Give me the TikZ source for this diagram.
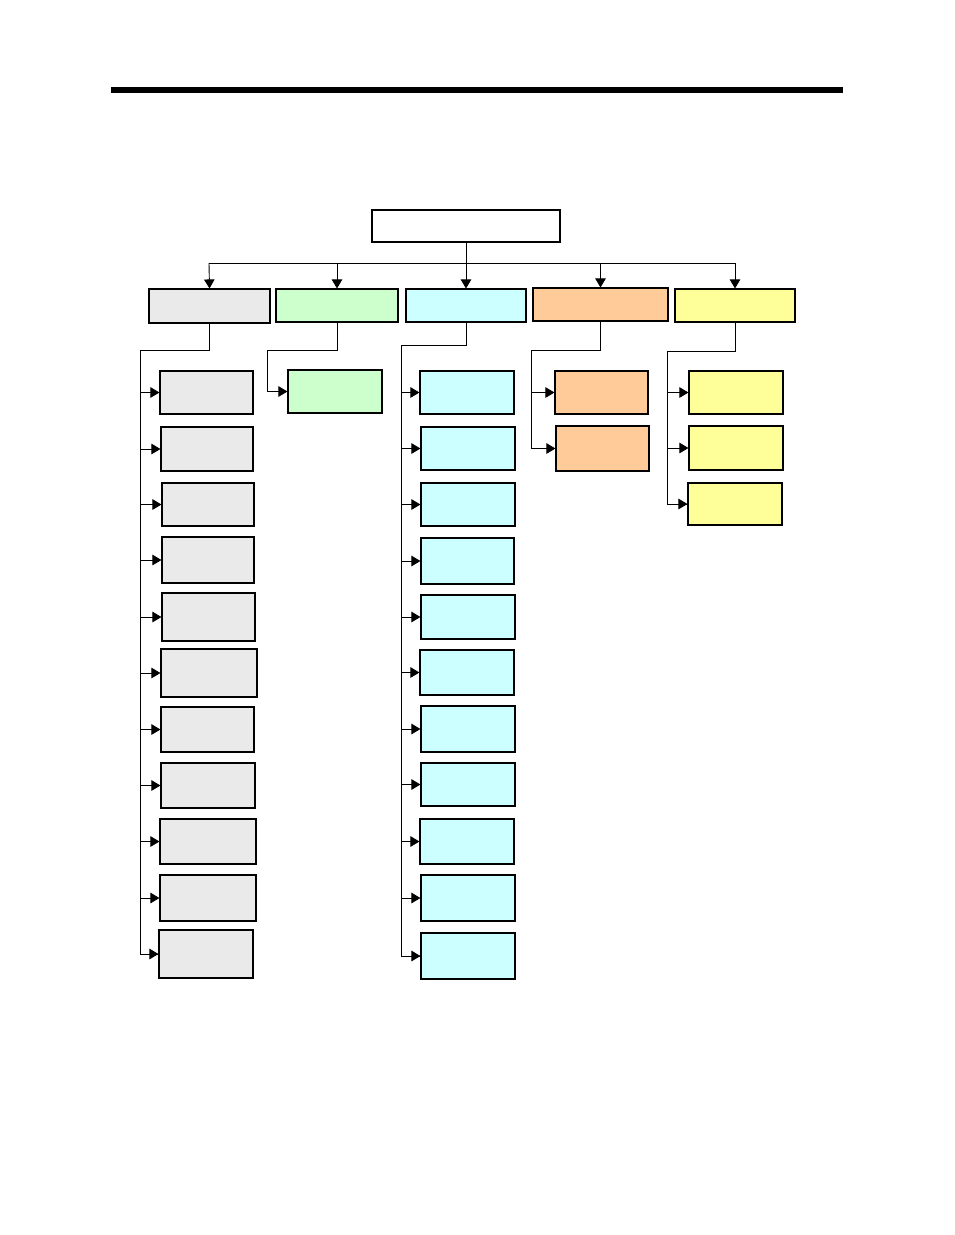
\documentclass[tikz,border=0pt]{standalone}
\usetikzlibrary{arrows.meta}
\definecolor{cgray}{HTML}{EAEAEA}
\definecolor{cgreen}{HTML}{CCFFCC}
\definecolor{ccyan}{HTML}{CCFFFF}
\definecolor{corange}{HTML}{FFCC99}
\definecolor{cyellow}{HTML}{FFFF99}
\tikzset{
  box/.style={draw=black, line width=1.1pt, inner sep=0pt, minimum width=94pt, minimum height=44pt},
  graybox/.style={box, fill=cgray},
  greenbox/.style={box, fill=cgreen},
  cyanbox/.style={box, fill=ccyan},
  orangebox/.style={box, fill=corange},
  yellowbox/.style={box, fill=cyellow},
  conn/.style={draw=black, line width=0.9pt},
  arr/.style={conn, -{Triangle[length=9pt,width=10.5pt]}},
}
\begin{document}
\begin{tikzpicture}[x=1pt,y=-1pt]
\useasboundingbox (0,0) rectangle (954,1235);
% top rule
\fill[black] (111,87) rectangle (843,93);
% root
\node[draw=black, line width=2.4pt, fill=white, inner sep=0pt, minimum width=188pt, minimum height=32pt] (root) at (466,226) {};
% level 1
\node[graybox, minimum width=121pt, minimum height=34pt] (G) at (209.5,306) {};
\node[greenbox, minimum width=122pt, minimum height=33pt] (N) at (337,305.5) {};
\node[cyanbox, minimum width=120pt, minimum height=33pt] (C) at (466,305.5) {};
\node[orangebox, minimum width=135pt, minimum height=33pt] (O) at (600.5,304.5) {};
\node[yellowbox, minimum width=120pt, minimum height=33pt] (Y) at (735,305.5) {};
\coordinate (hub) at (466,263);
\draw[conn] (root.south) -- (hub);
\coordinate (hl) at (209,263);
\coordinate (hr) at (735,263);
\draw[conn] (hl) -- (hr);
\draw[arr] (hl) -- (G.north);
\draw[arr] (N.north |- hub) -- (N.north);
\draw[arr] (hub) -- (C.north);
\draw[arr] (O.north |- hub) -- (O.north);
\draw[arr] (hr) -- (Y.north);
% gray children
\node[graybox, minimum width=93pt, minimum height=43pt] (g1) at (206.5,392.5) {};
\node[graybox, minimum width=92pt, minimum height=44pt] (g2) at (207,449) {};
\node[graybox, minimum width=92pt, minimum height=43pt] (g3) at (208,504.5) {};
\node[graybox, minimum width=92pt, minimum height=46pt] (g4) at (208,560) {};
\node[graybox, minimum width=93pt, minimum height=48pt] (g5) at (208.5,617) {};
\node[graybox, minimum width=96pt, minimum height=48pt] (g6) at (209,673) {};
\node[graybox, minimum width=93pt, minimum height=45pt] (g7) at (207.5,729.5) {};
\node[graybox, minimum width=94pt, minimum height=45pt] (g8) at (208,785.5) {};
\node[graybox, minimum width=96pt, minimum height=45pt] (g9) at (208,841.5) {};
\node[graybox, minimum width=96pt, minimum height=46pt] (g10) at (208,898) {};
\node[graybox, minimum width=94pt, minimum height=48pt] (g11) at (206,954) {};
\coordinate (tg) at (140,350);
\draw[conn] (G.south) |- (tg) |- (g11.west);
\foreach \i in {1,...,11} { \draw[arr] (g\i.west -| tg) -- (g\i.west); }
% green child
\node[greenbox, minimum width=94pt, minimum height=43pt] (n1) at (335,391.5) {};
\coordinate (tn) at (267,350);
\draw[conn] (N.south) |- (tn);
\draw[arr] (tn) |- (n1.west);
% cyan children
\node[cyanbox, minimum height=43pt] (c1) at (467,392.5) {};
\node[cyanbox, minimum height=43pt] (c2) at (468,448.5) {};
\node[cyanbox, minimum height=43pt] (c3) at (468,504.5) {};
\node[cyanbox, minimum width=93pt, minimum height=46pt] (c4) at (467.5,561) {};
\node[cyanbox, minimum height=44pt] (c5) at (468,617) {};
\node[cyanbox, minimum height=45pt] (c6) at (467,672.5) {};
\node[cyanbox, minimum height=46pt] (c7) at (468,729) {};
\node[cyanbox, minimum height=43pt] (c8) at (468,784.5) {};
\node[cyanbox, minimum height=45pt] (c9) at (467,841.5) {};
\node[cyanbox, minimum height=46pt] (c10) at (468,898) {};
\node[cyanbox, minimum height=46pt] (c11) at (468,956) {};
\coordinate (tc) at (401,345);
\draw[conn] (C.south) |- (tc) |- (c11.west);
\foreach \i in {1,...,11} { \draw[arr] (c\i.west -| tc) -- (c\i.west); }
% orange children
\node[orangebox, minimum width=93pt, minimum height=43pt] (o1) at (601.5,392.5) {};
\node[orangebox, minimum width=93pt, minimum height=45pt] (o2) at (602.5,448.5) {};
\coordinate (to) at (531,350);
\draw[conn] (O.south) |- (to) |- (o2.west);
\foreach \i in {1,2} { \draw[arr] (o\i.west -| to) -- (o\i.west); }
% yellow children
\node[yellowbox, minimum width=94pt, minimum height=43pt] (y1) at (736,392.5) {};
\node[yellowbox, minimum width=94pt, minimum height=44pt] (y2) at (736,448) {};
\node[yellowbox, minimum width=94pt, minimum height=42pt] (y3) at (735,504) {};
\coordinate (ty) at (667,351);
\draw[conn] (Y.south) |- (ty) |- (y3.west);
\foreach \i in {1,2,3} { \draw[arr] (y\i.west -| ty) -- (y\i.west); }
\end{tikzpicture}
\end{document}
